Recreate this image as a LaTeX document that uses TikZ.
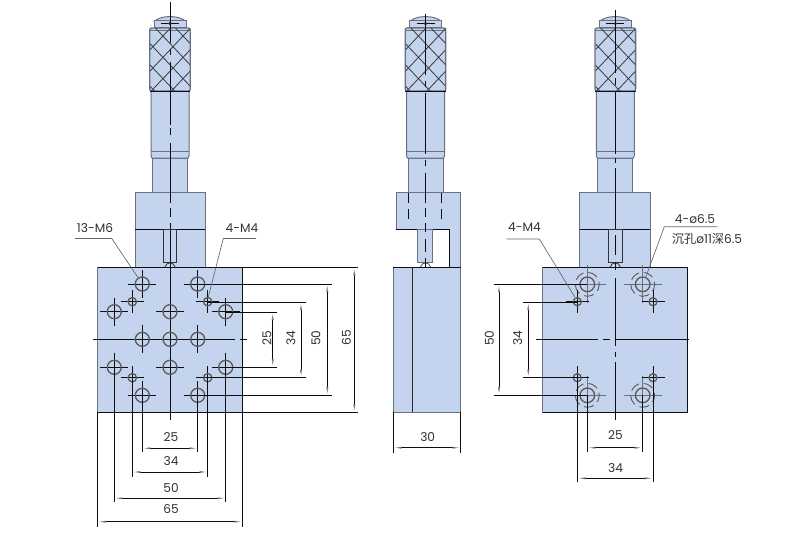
\documentclass[tikz,border=0pt]{standalone}
\usepackage{fontspec}
\setmainfont{Poppins}
\newfontfamily\cjkfont{Noto Sans CJK SC}
\usetikzlibrary{arrows.meta}
\definecolor{partfill}{RGB}{197,212,238}
\definecolor{partedge}{RGB}{105,113,128}
\definecolor{crossgrey}{RGB}{105,112,128}
\tikzset{
  part/.style={fill=partfill,draw=partedge,line width=1pt},
  ink/.style={draw=black!95,line width=.9pt},
  hard/.style={draw=black!95,line width=1pt},
  hatch/.style={draw=black!75,line width=.85pt},
  holeedge/.style={draw=black!65,line width=1.3pt},
  softcross/.style={draw=crossgrey,line width=1.1pt},
  sinkedge/.style={draw=black!65,line width=.9pt,dash pattern=on 10pt off 5.08pt,dash phase=3pt},
  dimline/.style={draw=black!95,line width=.85pt,{Latex[length=8pt,width=2.2pt,color=gray]}-{Latex[length=8pt,width=2.2pt,color=gray]}},
  leader/.style={draw=black!60,line width=.65pt},
  dimtext/.style={font=\fontsize{12.2}{14}\selectfont,text=black!80,inner sep=0pt},
}
% micrometer head: centre x, list of centre line segments
\newcommand{\microhead}[2]{%
  \begin{scope}[shift={(#1,0)}]
    \path[part] (-15,20.7) .. controls (-8,15.2) and (8,15.2) .. (15,20.7) -- cycle;
    \path[part] (-16,27) -- (-16,20.7) -- (16,20.7) -- (16,27) -- cycle;
    \path[part] (-17.5,158) -- (17.5,158) -- (17.5,192.5) -- (-17.5,192.5) -- cycle;
    \path[part] (-19,91) -- (19,91) -- (19,156) -- (18,158) -- (-18,158) -- (-19,156) -- cycle;
    \draw[draw=partedge,line width=1.1pt] (-19,151.7) -- (19,151.7);
    \path[part,line width=1.3pt,rounded corners=2pt] (-20.3,28) rectangle (20.3,91);
    \draw[draw=partedge,line width=.8pt] (-20,30.5) -- (20,30.5);
    \begin{scope}
      \clip (-19.8,28.5) rectangle (19.8,90.5);
      \foreach \k in {-3,...,3}{
        \draw[hatch] (-24,{89.3+21.3*\k-28.6}) -- (30,{89.3+21.3*\k+28.6});
        \draw[hatch] (-24,{89.3+21.3*\k+28.6}) -- (30,{89.3+21.3*\k-28.6});
      }
    \end{scope}
    \draw[hard] (-20.3,91) -- (20.3,91);
    \draw[ink] (-9,23.5) -- (9,23.5);
    \fill[black!80] (0,23.5) circle (1.8);
    \foreach \a/\b in {#2}{
      \draw[ink] (0,\a) -- (0,\b);
    }
  \end{scope}}
% hole with crosshair: x, y, radius, arm
\newcommand{\crosshole}[4]{%
  \draw[ink] (#1-#4,#2) -- (#1+#4,#2) (#1,#2-#4) -- (#1,#2+#4);
  \draw[holeedge] (#1,#2) circle (#3);}
% counterbored hole: x, y
\newcommand{\sinkhole}[2]{%
  \draw[softcross] ({#1-19},#2) -- ({#1+19},#2);
  \draw[softcross] (#1,{#2-19}) -- (#1,{#2+19});
  \draw[holeedge] (#1,#2) circle (7.3);
  \draw[sinkedge] (#1,#2) circle (12);}
\begin{document}
\begin{tikzpicture}[x=1pt,y=-1pt]
\useasboundingbox (0,0) rectangle (800,533);
\fill[white] (0,0) rectangle (800,533);

%% ---------- left view
\microhead{170}{2/43,49/55,62/125,128/135,143/192}
\path[part] (135,192.3) rectangle (205.3,267.3);
\draw[hard] (135,229.3) -- (205.3,229.3);
\draw[draw=black!80,line width=.9pt] (163.3,229.3) rectangle (176.7,262.7);
\draw[draw=black!80,line width=.8pt] (165,267) .. controls (166,261.5) and (174,261.5) .. (175,267);
\draw[ink] (170,192) -- (170,203) (170,208) -- (170,217);
\path[part] (97.7,267.3) rectangle (242.3,412.3);
\draw[hard] (97.7,267.3) -- (358,267.3);
\draw[hard] (242.3,267.3) -- (242.3,412.3);
\draw[hard] (97.7,412.3) -- (358,412.3);
\draw[ink] (170,223) -- (170,420);
\draw[ink] (93.3,339.3) -- (150,339.3) (156,339.3) -- (235,339.3) (240,339.3) -- (246.7,339.3);
\foreach \x/\y in {142.3/284,197.7/284,114.3/311.7,170/311.7,225.7/311.7,142.3/339.3,170/339.3,197.7/339.3,114.3/367.3,170/367.3,225.7/367.3,142.3/395.3,197.7/395.3}{
  \crosshole{\x}{\y}{7}{14}
}
\foreach \x/\y in {132.3/301.7,207.7/301.7,132.3/377.7,207.7/377.7}{
  \crosshole{\x}{\y}{4.2}{11.5}
}
% right-hand dimensions
\draw[ink] (197.7,284) -- (331.7,284) (197.7,395.3) -- (331.7,395.3);
\draw[ink] (207.7,302) -- (305.7,302) (207.7,377.7) -- (305.7,377.7);
\draw[ink] (225.7,312) -- (276.7,312) (225.7,367.3) -- (276.7,367.3);
\draw[dimline] (354.3,267.3) -- (354.3,412.3);
\draw[dimline] (327.3,284) -- (327.3,395.3);
\draw[dimline] (301,302) -- (301,377.7);
\draw[dimline] (272.7,312) -- (272.7,367.3);
\node[dimtext,rotate=90] (rt25) at (267,338) {25};
\node[dimtext,rotate=90] (rt34) at (291,338) {34};
\node[dimtext,rotate=90] (rt50) at (316,338) {50};
\node[dimtext,rotate=90] (rt65) at (346.5,338) {65};
% bottom dimensions
\draw[ink] (142.3,395.3) -- (142.3,452) (197.7,395.3) -- (197.7,452);
\draw[ink] (132.3,377.7) -- (132.3,476.7) (207.7,377.7) -- (207.7,476.7);
\draw[ink] (114.3,367.3) -- (114.3,502.3) (225.7,367.3) -- (225.7,502.3);
\draw[hard] (97.7,412.3) -- (97.7,526.7);
\draw[hard] (242.3,412.3) -- (242.3,526.7);
\draw[dimline] (142.3,448.3) -- (197.7,448.3);
\draw[dimline] (132.3,472) -- (207.7,472);
\draw[dimline] (114.3,498.3) -- (225.7,498.3);
\draw[dimline] (97.7,521.7) -- (242.3,521.7);
\node[dimtext] (bt25) at (171,437.5) {25};
\node[dimtext] (bt34) at (171,461.5) {34};
\node[dimtext] (bt50) at (171,488) {50};
\node[dimtext] (bt65) at (171,509) {65};
% leaders
\node[dimtext] (lblsix) at (95,228.5) {13-M6};
\node[dimtext] (lblfour) at (242,228.5) {4-M4};
\draw[leader] (75,238.5) -- (111.7,238.5) -- (139,279);
\draw[leader] (256,238.5) -- (223.3,238.5) -- (208.3,297);

%% ---------- side view
\microhead{425.5}{14/75,81/87,93/154,160/166,173/192}
\path[part] (396,192.3) -- (460.7,192.3) -- (460.7,267.3) -- (449.3,267.3) -- (449.3,229.3) -- (396,229.3) -- cycle;
\draw[hard] (396,229.3) -- (449.3,229.3) -- (449.3,267.3);
\path[part] (417.7,229.3) rectangle (432.3,262.7);
\draw[draw=black!70,line width=.8pt] (420.5,267) .. controls (421.5,261.5) and (429.5,261.5) .. (430.5,267);
\draw[ink,dash pattern=on 10pt off 6pt] (408.3,193) -- (408.3,225);
\draw[ink,dash pattern=on 10pt off 6pt] (441.3,193) -- (441.3,225);
\draw[ink] (425.5,190) -- (425.5,203) (425.5,208) -- (425.5,217) (425.5,223) -- (425.5,232) (425.5,239) -- (425.5,252) (425.5,258) -- (425.5,269);
\path[part] (393.3,267.3) rectangle (460.7,412.3);
\draw[hard] (393.3,267.3) -- (460.7,267.3);
\draw[draw=black!85,line width=1.4pt] (412.3,267.3) -- (412.3,412.3);
\draw[hard] (393.3,412.3) -- (393.3,452.7) (460.7,412.3) -- (460.7,452.7);
\draw[dimline] (393.3,447.7) -- (460.7,447.7);
\node[dimtext] (sd30) at (427.7,436.7) {30};

%% ---------- back view
\microhead{615.3}{10/73,78/85,92/154,158/163,168/192}
\path[part] (579.7,192.3) rectangle (650,267.3);
\draw[hard] (579.7,229.3) -- (650,229.3);
\draw[draw=black!80,line width=.9pt] (608.3,229.3) rectangle (622,262.7);
\draw[draw=black!80,line width=.8pt] (610.3,267) .. controls (611.3,261.5) and (619.3,261.5) .. (620.3,267);
\draw[ink] (615.3,192) -- (615.3,229.3) (615.3,235) -- (615.3,255);
\path[part] (542.7,267.3) rectangle (687.3,412.3);
\draw[hard] (542.7,267.3) -- (687.3,267.3) -- (687.3,412.3) -- (542.7,412.3);
\draw[ink] (536,339.3) -- (597.7,339.3) (603,339.3) -- (610,339.3) (615.3,339.3) -- (689,339.3);
\draw[ink] (615.3,262) -- (615.3,270) (615.3,278) -- (615.3,345.5) (615.3,351.7) -- (615.3,357) (615.3,362) -- (615.3,420);
\foreach \x/\y in {587.3/284.3,642.7/284.3,587.3/395.3,642.7/395.3}{
  \sinkhole{\x}{\y}
}
\foreach \x/\y in {577.3/301.7,653/301.7,577.3/377.7,653/377.7}{
  \crosshole{\x}{\y}{4}{11.5}
}
% left dimensions
\draw[ink] (494.3,284.3) -- (587.3,284.3) (494.3,395.3) -- (587.3,395.3);
\draw[ink] (523.3,302) -- (577.3,302) (523.3,377.7) -- (577.3,377.7);
\draw[dimline] (499,284.3) -- (499,395.3);
\draw[dimline] (528.3,302) -- (528.3,377.7);
\node[dimtext,rotate=90] (bk50) at (489.5,338) {50};
\node[dimtext,rotate=90] (bk34) at (517.7,338) {34};
% bottom dimensions
\draw[ink] (587.3,395.3) -- (587.3,452.3) (642.7,395.3) -- (642.7,452.3);
\draw[ink] (577.3,377.7) -- (577.3,482.3) (653,377.7) -- (653,482.3);
\draw[dimline] (587.3,447.7) -- (642.7,447.7);
\draw[dimline] (577.3,478.3) -- (653,478.3);
\node[dimtext] (bb25) at (615.5,435) {25};
\node[dimtext] (bb34) at (615.5,468.3) {34};
% leaders
\node[dimtext] (lblbkfour) at (524.5,227) {4-M4};
\node[dimtext] (lblbore) at (695,219.5) {4-ø6.5};
\node[dimtext] (lblsink) at (707,239) {{\cjkfont 沉孔}ø11{\cjkfont 深}6.5};
\draw[leader] (506.7,239) -- (539.3,239) -- (575,297.3);
\draw[leader] (717.3,226.7) -- (664.3,226.7) -- (645.7,277.3);
\end{tikzpicture}
\end{document}
